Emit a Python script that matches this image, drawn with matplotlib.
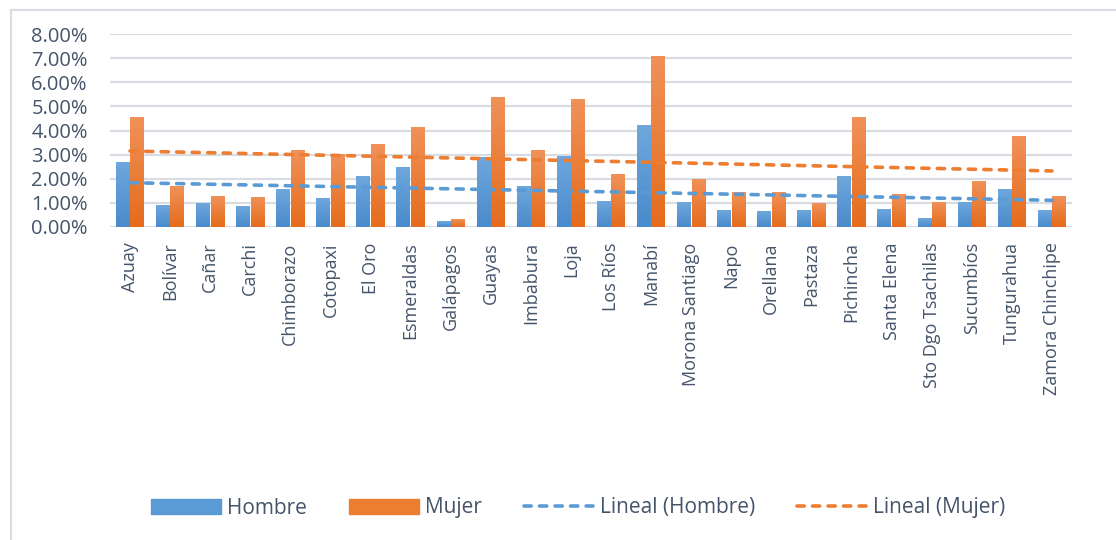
import numpy as np
import matplotlib.pyplot as plt
from matplotlib.patches import Patch
from matplotlib.lines import Line2D
from matplotlib.colors import LinearSegmentedColormap
from matplotlib.ticker import FuncFormatter

provincias = ['Azuay', 'Bolívar', 'Cañar', 'Carchi', 'Chimborazo', 'Cotopaxi',
              'El Oro', 'Esmeraldas', 'Galápagos', 'Guayas', 'Imbabura', 'Loja',
              'Los Ríos', 'Manabí', 'Morona Santiago', 'Napo', 'Orellana',
              'Pastaza', 'Pichincha', 'Santa Elena', 'Sto Dgo Tsachilas',
              'Sucumbíos', 'Tungurahua', 'Zamora Chinchipe']

# percentages
hombre = [2.69, 0.90, 0.98, 0.86, 1.56, 1.19, 2.10, 2.48, 0.24, 2.89, 1.69, 2.93,
          1.07, 4.22, 1.02, 0.69, 0.65, 0.69, 2.10, 0.73, 0.36, 1.02, 1.56, 0.69]
mujer = [4.55, 1.69, 1.27, 1.23, 3.18, 3.02, 3.43, 4.14, 0.32, 5.38, 3.18, 5.30,
         2.19, 7.09, 1.98, 1.44, 1.44, 0.98, 4.55, 1.36, 1.02, 1.90, 3.76, 1.27]

azul = '#5B9BD5'
naranja = '#ED7D31'
texto = '#44546A'
rejilla = '#D9DDE3'
# degradado tipo Excel: claro arriba, oscuro abajo
grad_azul = LinearSegmentedColormap.from_list('ga', ['#4A8BCB', '#6EA7DD'])
grad_naranja = LinearSegmentedColormap.from_list('gn', ['#E56C1B', '#F09159'])

plt.rcParams['font.family'] = ['Open Sans', 'DejaVu Sans']

fig = plt.figure(figsize=(11.16, 5.40), dpi=100)
W, H = 1116, 540
ax = fig.add_axes([110 / W, 1 - 227 / H, (1072 - 110) / W, (227 - 34) / H])

x = np.arange(len(provincias))
bw = 0.345
barras_h = ax.bar(x - 0.18, hombre, width=bw, color=azul, zorder=2)
barras_m = ax.bar(x + 0.18, mujer, width=bw, color=naranja, zorder=2)

grad = np.linspace(0, 1, 64).reshape(-1, 1)
for barras, cmap in [(barras_h, grad_azul), (barras_m, grad_naranja)]:
    for r in barras:
        x0, y0 = r.get_x(), r.get_y()
        im = ax.imshow(grad, cmap=cmap, origin='lower', aspect='auto',
                       extent=(x0, x0 + r.get_width(), y0, y0 + r.get_height()),
                       zorder=2.1, interpolation='bilinear')
        im.set_clip_path(r)

# lineas de tendencia (regresion lineal)
for serie, col in [(hombre, azul), (mujer, naranja)]:
    m, b = np.polyfit(x, serie, 1)
    ax.plot(x, m * x + b, color=col, lw=2.6, dashes=(2.0, 2.3),
            dash_capstyle='round', zorder=3)

ax.set_xlim(-0.5, len(provincias) - 0.5)
ax.set_ylim(0, 8)
ax.set_yticks(np.arange(0, 9, 1))
ax.yaxis.set_major_formatter(FuncFormatter(lambda v, p: f'{v:.2f}%'))
ax.grid(axis='y', color=rejilla, lw=1.6, zorder=0)
ax.set_axisbelow(True)
for s in ax.spines.values():
    s.set_visible(False)
ax.set_xticks(x)
ax.set_xticklabels(provincias, rotation=90)
ax.tick_params(axis='y', length=0, pad=16, labelsize=14.5, labelcolor=texto)
ax.tick_params(axis='x', length=0, pad=11, labelsize=13, labelcolor=texto)

handles = [Patch(color=azul), Patch(color=naranja),
           Line2D([], [], color=azul, lw=2.6, dashes=(2.0, 2.3), dash_capstyle='round'),
           Line2D([], [], color=naranja, lw=2.6, dashes=(2.0, 2.3), dash_capstyle='round')]
labels = ['Hombre', 'Mujer', 'Lineal (Hombre)', 'Lineal (Mujer)']
leg = fig.legend(handles, labels, loc='center', bbox_to_anchor=(0.518, 1 - 508 / H),
                 ncol=4, frameon=False, fontsize=15, handlelength=3.35,
                 handleheight=0.75, handletextpad=0.3, columnspacing=2.0)
for t in leg.get_texts():
    t.set_color(texto)

# borde del grafico
fig.add_artist(Line2D([11 / W, 11 / W], [0, 1 - 10 / H], color=rejilla, lw=1.5,
                      transform=fig.transFigure))
fig.add_artist(Line2D([11 / W, 1], [1 - 10 / H, 1 - 10 / H], color=rejilla, lw=1.5,
                      transform=fig.transFigure))

fig.savefig('out.png', dpi=100)
